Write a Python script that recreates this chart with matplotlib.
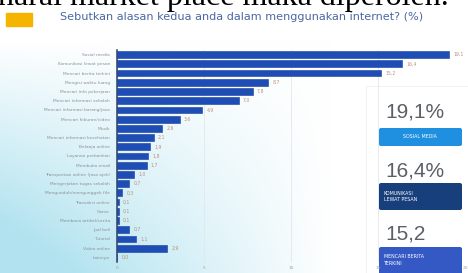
import numpy as np
import matplotlib.pyplot as plt
from matplotlib.patches import Rectangle, FancyBboxPatch

W, H = 468, 273

title = "Sebutkan alasan kedua anda dalam menggunakan internet? (%)"
doc_line = "harai market place maka diperoleh."

categories = [
    "Sosial media", "Komunikasi lewat pesan", "Mencari berita terkini",
    "Mengisi waktu luang", "Mencari info pekerjaan", "Mencari informasi sekolah",
    "Mencari informasi barang/jasa", "Mencari hiburan/video", "Musik",
    "Mencari informasi kesehatan", "Belanja online", "Layanan perbankan",
    "Membuka email", "Transportasi online (jasa ojek)", "Mengerjakan tugas sekolah",
    "Mengunduh/mengunggah file", "Transaksi online", "Game",
    "Membaca artikel/cerita", "Jual beli", "Tutorial", "Video online", "Lainnya",
]
values = [19.1, 16.4, 15.2, 8.7, 7.8, 7.0, 4.9, 3.6, 2.6, 2.1, 1.9, 1.8,
          1.7, 1.0, 0.7, 0.3, 0.1, 0.1, 0.1, 0.7, 1.1, 2.9, 0.0]

top_values = ["19,1%", "16,4%", "15,2"]
top_names = ["SOSIAL MEDIA", "KOMUNIKASI\nLEWAT PESAN", "MENCARI BERITA\nTERKINI"]
top_colors = ["#1f8fe0", "#173f7c", "#3459c4"]


def box(x0, y0, x1, y1):
    # pixel box (top-left origin) -> figure fraction
    return [x0 / W, 1 - y1 / H, (x1 - x0) / W, (y1 - y0) / H]


fig = plt.figure(figsize=(W / 100, H / 100), dpi=100)

# background of the slide
bg = fig.add_axes([0, 0, 1, 1])
yy, xx = np.mgrid[0:H, 0:W]
s = np.clip((yy - 40) / 233.0, 0, 1) * np.clip(1 - xx / 330.0, 0, 1)
s = np.clip(s * 1.3, 0, 1)
cyan = np.array([0.70, 0.89, 0.94])
img = (1 - s[..., None]) * 1.0 + s[..., None] * cyan
img[:9] = 1.0
bg.imshow(img, extent=(0, W, H, 0), aspect='auto')
bg.set_xlim(0, W)
bg.set_ylim(H, 0)
bg.axis('off')

fig.text(-2 / W, 1 - 5.5 / H, doc_line, fontsize=23, family='Liberation Serif',
         color='black', va='baseline', ha='left')

bg.add_patch(Rectangle((6, 13), 26, 13, color='#f5b400', zorder=2))
bg.text(60, 17.5, title, fontsize=8.1, color='#4a68a0', va='center', ha='left')

# right panel
bg.add_patch(Rectangle((366, 86), 110, 200, facecolor='white',
                       edgecolor='#eceff2', lw=0.6, zorder=3))
num_y = [112, 171, 234]
btn_y = [(128, 146), (183, 210), (247, 278)]
for k in range(3):
    bg.text(385, num_y[k], top_values[k], fontsize=15, family='Liberation Sans',
            color='#5c6066', va='center', ha='left', zorder=5)
    y0, y1 = btn_y[k]
    bg.add_patch(FancyBboxPatch((379, y0), 83, y1 - y0,
                                boxstyle='round,pad=0,rounding_size=2',
                                facecolor=top_colors[k], edgecolor='none', zorder=4))
    ha = 'center' if k == 0 else 'left'
    tx = 420 if k == 0 else 384
    bg.text(tx, (y0 + min(y1, 273)) / 2, top_names[k], fontsize=3.4, color='white',
            va='center', ha=ha, zorder=5, linespacing=1.3)

# bar chart
ax = fig.add_axes(box(117, 50, 465, 262))
ax.patch.set_alpha(0)
n = len(values)
pos = np.arange(n)
ax.barh(pos, values, height=0.74, color='#1e4db6', edgecolor='#173f98',
        linewidth=0.4, zorder=3)
for i, v in enumerate(values):
    ax.text(v + 0.25, i, f"{v:.1f}".replace('.', ','), fontsize=3.3,
            color='#b8927a', va='center', ha='left', zorder=4)

ax.set_xlim(0, 20)
ax.set_ylim(n - 0.5, -0.5)
ax.set_yticks(pos)
ax.set_yticklabels(categories, fontsize=3.2, color='#8c9196')
ax.set_xticks([0, 5, 10, 15, 20])
ax.set_xticklabels(['0', '5', '10', '15', '20'], fontsize=3.2, color='#a0a4a8')
ax.tick_params(axis='y', length=0, pad=5)
ax.tick_params(axis='x', length=0, pad=3)
ax.grid(axis='x', color='#e3e7eb', lw=0.6, zorder=0)
for sp in ['top', 'right', 'bottom']:
    ax.spines[sp].set_visible(False)
ax.spines['left'].set_color('#2b3f6c')
ax.spines['left'].set_linewidth(1.1)
ax.spines['left'].set_zorder(5)

fig.savefig('out.png', dpi=100)
